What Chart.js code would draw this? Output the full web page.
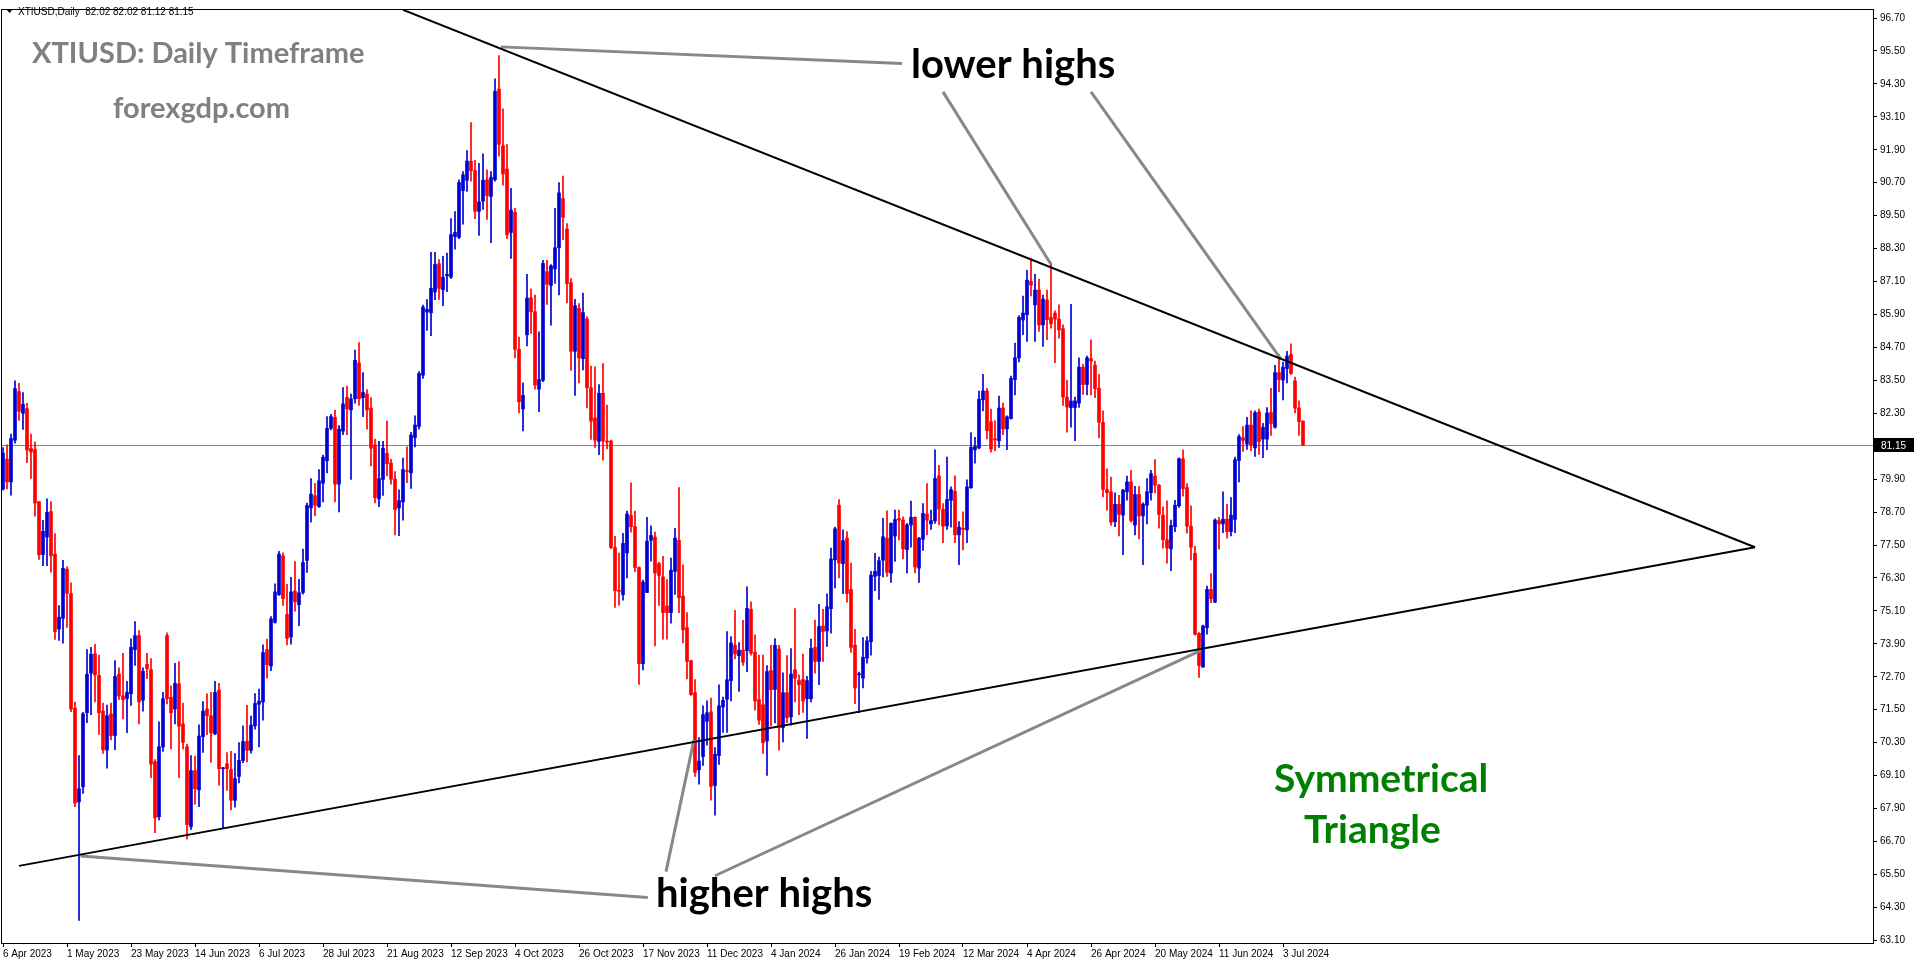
<!DOCTYPE html>
<html>
<head>
<meta charset="utf-8">
<title>XTIUSD Daily</title>
<script src="https://cdn.jsdelivr.net/npm/chart.js@4.4.1/dist/chart.umd.min.js"></script>
<style>
  html, body { margin: 0; padding: 0; background: #fff; }
</style>
</head>
<body>
<canvas id="chart" width="1916" height="964"></canvas>
<script>
// daily bars, 6 Apr 2023 .. 9 Jul 2024 (one row = 16 bars = one date label)
const opens = [
  79.54, 80.63, 79.80, 81.32, 83.09, 82.30, 82.47, 81.02, 80.98, 79.08, 77.15, 77.79, 78.72, 77.17, 74.44, 74.83,
  76.62, 75.73, 71.56, 68.14, 68.69, 71.39, 72.83, 73.54, 72.75, 71.45, 70.03, 71.35, 70.56, 72.79, 72.00, 71.91,
  72.08, 73.69, 74.20, 71.85, 73.15, 72.96, 69.61, 67.60, 70.14, 74.20, 71.95, 71.52, 72.44, 70.98, 70.15, 67.24,
  69.28, 68.58, 70.52, 71.52, 71.28, 70.62, 72.21, 69.35, 69.53, 69.32, 68.20, 69.07, 69.65, 70.35, 70.02, 70.91,
  71.70, 71.78, 73.69, 73.09, 74.68, 75.69, 77.10, 74.97, 74.15, 75.82, 75.33, 75.77, 76.94, 78.85, 79.30, 78.90,
  79.75, 80.57, 81.75, 82.15, 79.72, 81.65, 82.88, 82.42, 82.83, 84.14, 82.87, 83.00, 82.49, 81.15, 79.18, 79.89,
  80.84, 80.49, 79.90, 78.85, 79.07, 80.21, 80.13, 81.41, 81.82, 83.69, 85.99, 85.96, 86.72, 87.75, 86.80, 87.31,
  87.26, 88.74, 88.71, 90.41, 90.79, 91.48, 91.14, 89.66, 90.03, 90.81, 90.20, 90.81, 94.11, 92.05, 91.20, 88.89,
  89.62, 84.63, 82.46, 85.16, 86.50, 86.00, 83.18, 83.50, 87.46, 86.96, 87.56, 88.33, 90.12, 89.01, 87.06, 84.56,
  86.12, 84.29, 85.74, 83.23, 82.13, 81.28, 83.03, 81.29, 81.29, 77.41, 75.84, 75.69, 77.21, 78.58, 78.17, 76.68,
  73.18, 75.77, 77.67, 77.79, 76.82, 76.34, 75.28, 75.04, 76.54, 77.67, 75.64, 74.49, 73.29, 72.12, 69.31, 69.79,
  71.08, 71.42, 68.74, 69.83, 71.60, 71.88, 72.56, 73.85, 73.47, 73.67, 73.65, 75.16, 73.59, 71.87, 71.68, 70.36,
  72.93, 72.24, 73.71, 70.85, 72.12, 71.24, 72.96, 72.56, 72.60, 71.90, 71.90, 73.77, 73.26, 74.55, 74.37, 75.18,
  76.96, 78.95, 76.82, 77.75, 75.88, 73.85, 72.77, 72.65, 73.38, 73.98, 76.36, 76.39, 76.95, 77.75, 76.48, 77.83,
  78.47, 78.41, 77.33, 78.23, 78.51, 76.66, 77.71, 78.62, 78.27, 78.38, 80.02, 78.80, 78.20, 79.13, 79.46, 77.87,
  78.11, 78.05, 79.59, 80.97, 81.04, 82.79, 83.11, 81.99, 81.37, 81.30, 82.49, 81.73, 82.11, 83.53, 84.32, 85.70,
  85.89, 87.11, 86.25, 86.79, 85.52, 86.43, 85.79, 85.95, 85.73, 85.38, 82.89, 82.51, 82.51, 82.67, 83.98, 83.35,
  84.29, 84.05, 83.21, 81.97, 79.52, 79.44, 78.35, 78.98, 78.59, 79.44, 79.80, 78.23, 79.34, 78.56, 78.95, 79.41,
  80.01, 79.68, 78.59, 77.69, 77.36, 78.17, 78.93, 80.64, 79.59, 78.19, 77.20, 74.28, 73.05, 74.49, 75.88, 75.42,
  78.39, 78.27, 78.44, 77.99, 78.43, 80.58, 81.41, 81.18, 81.87, 81.04, 82.35, 81.36, 81.36, 82.33, 81.79, 83.78,
  83.51, 83.93, 84.44, 83.48, 82.49, 82.02
];
const highs = [
  81.05, 81.15, 81.54, 83.48, 83.39, 83.05, 82.66, 81.54, 81.25, 79.08, 78.40, 79.18, 79.08, 77.92, 75.29, 76.94,
  76.71, 76.12, 71.78, 69.83, 71.40, 73.69, 73.77, 73.88, 73.49, 71.74, 71.67, 71.74, 73.29, 73.03, 73.55, 72.53,
  74.08, 74.71, 74.38, 73.03, 73.55, 73.36, 69.68, 71.06, 72.13, 74.30, 72.37, 73.19, 73.25, 71.74, 70.24, 69.83,
  69.81, 70.95, 71.80, 72.08, 72.13, 72.53, 72.46, 69.40, 69.94, 69.98, 69.90, 70.30, 70.91, 71.66, 71.27, 72.09,
  72.25, 73.86, 74.07, 74.89, 76.09, 77.27, 77.22, 76.07, 76.32, 76.90, 76.25, 77.35, 79.03, 79.92, 79.75, 80.25,
  80.78, 82.18, 82.26, 82.42, 81.85, 83.24, 83.29, 83.00, 84.60, 84.88, 83.78, 83.16, 82.87, 81.36, 81.28, 81.28,
  82.02, 80.62, 80.18, 79.51, 80.67, 81.08, 81.61, 82.21, 83.82, 86.24, 86.44, 88.16, 88.16, 87.90, 88.02, 88.14,
  89.39, 89.65, 90.81, 91.11, 91.87, 92.89, 91.52, 91.41, 91.75, 91.17, 91.11, 94.49, 95.33, 93.39, 92.09, 90.50,
  89.77, 85.08, 83.41, 87.36, 86.83, 86.61, 85.27, 87.87, 87.87, 87.72, 89.77, 90.71, 90.94, 89.21, 87.21, 86.45,
  86.30, 86.68, 85.81, 84.02, 83.99, 83.35, 84.11, 82.60, 81.32, 77.82, 77.21, 77.93, 78.74, 79.77, 78.74, 76.71,
  76.22, 78.51, 78.20, 77.97, 76.87, 77.09, 76.24, 77.02, 78.11, 79.59, 76.78, 75.04, 73.29, 72.60, 70.48, 71.64,
  71.82, 71.92, 70.12, 72.41, 71.96, 74.35, 74.16, 75.12, 73.95, 74.76, 75.98, 75.43, 74.23, 73.49, 73.49, 73.11,
  73.85, 74.09, 73.85, 72.84, 73.47, 73.73, 75.18, 72.77, 73.53, 72.72, 74.07, 74.77, 75.34, 75.16, 75.72, 77.39,
  78.15, 79.16, 78.05, 77.99, 76.84, 74.43, 72.87, 74.13, 74.16, 76.54, 77.20, 77.06, 78.47, 78.75, 78.31, 78.77,
  78.77, 78.53, 78.29, 79.10, 78.53, 77.78, 79.01, 79.74, 78.77, 80.97, 80.40, 79.01, 80.70, 79.62, 80.02, 78.35,
  78.71, 79.88, 81.60, 81.42, 83.11, 83.72, 83.21, 82.45, 82.03, 82.93, 82.67, 82.21, 83.66, 84.86, 85.86, 86.57,
  87.51, 87.93, 87.36, 87.19, 86.61, 86.79, 87.79, 86.03, 86.25, 85.52, 83.50, 86.27, 82.89, 84.32, 84.08, 84.38,
  84.98, 84.20, 83.72, 82.39, 80.28, 79.98, 79.40, 79.31, 79.53, 80.01, 80.22, 79.64, 79.64, 79.04, 79.92, 80.22,
  80.61, 79.71, 78.89, 79.11, 78.41, 79.13, 80.68, 80.97, 79.74, 78.93, 77.45, 74.31, 74.58, 76.00, 76.46, 78.45,
  78.51, 79.44, 78.98, 79.23, 80.70, 81.52, 81.82, 82.15, 82.39, 82.39, 82.45, 81.93, 82.51, 83.21, 84.05, 84.44,
  84.17, 84.56, 84.83, 83.62, 82.75, 82.02
];
const lows = [
  79.50, 79.54, 79.32, 81.21, 82.04, 81.71, 80.50, 79.93, 78.55, 76.98, 76.75, 76.75, 76.51, 74.06, 74.02, 73.92,
  74.50, 71.43, 67.97, 63.82, 68.45, 71.03, 71.32, 71.78, 70.60, 69.91, 69.37, 70.40, 70.04, 71.87, 71.16, 70.66,
  71.66, 73.11, 70.98, 71.45, 72.63, 69.02, 67.02, 67.48, 69.98, 71.71, 70.07, 70.98, 69.02, 70.07, 66.78, 67.14,
  68.06, 67.97, 69.94, 70.59, 69.58, 70.59, 68.75, 67.18, 68.56, 67.85, 67.95, 68.83, 69.57, 69.60, 69.92, 70.79,
  70.14, 71.12, 72.65, 72.92, 74.65, 75.66, 75.30, 73.86, 73.89, 75.09, 74.56, 75.71, 76.50, 78.33, 78.57, 78.87,
  79.07, 80.13, 81.69, 79.07, 78.71, 81.52, 81.52, 79.89, 82.67, 82.59, 82.18, 81.72, 80.38, 79.03, 78.90, 79.31,
  80.02, 79.72, 77.87, 77.84, 78.41, 79.77, 79.56, 81.07, 81.72, 83.57, 85.32, 85.13, 86.44, 86.45, 86.22, 86.73,
  87.21, 88.28, 88.66, 89.19, 90.38, 90.76, 89.39, 88.78, 89.73, 89.36, 88.52, 90.76, 91.67, 90.61, 88.66, 87.94,
  84.32, 82.31, 81.66, 84.75, 85.21, 83.18, 82.36, 83.45, 86.27, 85.51, 87.03, 86.61, 88.63, 86.32, 83.86, 82.95,
  83.41, 83.88, 82.50, 81.35, 81.06, 80.79, 80.59, 81.00, 77.37, 75.23, 75.31, 75.49, 76.30, 77.97, 76.53, 72.42,
  72.95, 75.77, 76.91, 73.82, 75.30, 74.07, 74.07, 74.65, 75.70, 75.04, 73.93, 72.62, 72.02, 69.07, 68.79, 69.47,
  70.21, 68.20, 67.66, 69.51, 70.67, 70.67, 71.82, 73.35, 72.17, 73.11, 72.89, 73.49, 71.48, 70.96, 69.91, 69.11,
  70.90, 71.02, 70.03, 70.33, 71.03, 70.94, 71.78, 71.32, 71.40, 70.45, 71.78, 72.83, 72.41, 73.26, 73.81, 74.29,
  75.94, 76.30, 75.73, 75.42, 73.59, 71.72, 71.39, 72.29, 73.20, 73.49, 75.84, 75.52, 76.34, 76.36, 76.14, 76.90,
  77.69, 76.99, 76.48, 77.42, 76.48, 76.14, 77.30, 77.87, 78.07, 78.29, 78.23, 77.59, 78.07, 78.15, 77.59, 76.78,
  77.32, 77.59, 79.56, 80.48, 81.00, 82.39, 81.37, 80.88, 80.94, 81.06, 81.52, 80.97, 82.09, 82.97, 84.17, 85.16,
  84.92, 86.58, 84.92, 85.28, 84.74, 84.98, 85.40, 84.14, 85.04, 82.59, 81.61, 81.79, 81.30, 82.51, 82.99, 82.97,
  82.97, 82.87, 81.40, 79.25, 78.77, 78.21, 78.17, 77.83, 77.15, 79.13, 78.33, 77.87, 77.72, 76.78, 78.27, 79.13,
  79.40, 78.11, 77.39, 76.84, 76.57, 77.99, 78.87, 79.28, 77.93, 76.96, 74.22, 72.68, 73.05, 74.25, 75.40, 75.40,
  77.35, 77.95, 77.75, 77.83, 77.95, 79.80, 80.91, 80.98, 80.94, 80.73, 80.80, 80.68, 80.97, 81.49, 81.76, 83.09,
  82.79, 83.41, 83.72, 82.31, 81.49, 81.12
];
const closes = [
  80.85, 79.80, 81.38, 83.20, 82.37, 82.63, 80.96, 80.89, 79.03, 77.15, 78.00, 78.69, 77.11, 74.35, 74.87, 76.65,
  75.74, 71.52, 68.10, 68.62, 71.35, 72.79, 73.52, 72.77, 71.39, 70.04, 71.28, 70.56, 72.71, 72.00, 71.87, 72.13,
  73.77, 74.20, 71.79, 72.90, 73.00, 69.52, 67.56, 70.15, 71.90, 71.90, 71.39, 72.46, 70.90, 70.31, 67.31, 69.28,
  68.62, 70.54, 71.45, 71.28, 70.66, 72.13, 69.35, 69.37, 69.35, 68.20, 68.99, 69.65, 70.34, 70.02, 70.94, 71.73,
  71.81, 73.58, 73.14, 74.81, 75.79, 77.17, 75.55, 74.10, 75.79, 75.43, 75.76, 76.86, 78.94, 79.36, 78.95, 79.84,
  80.70, 81.75, 82.18, 79.72, 81.72, 82.64, 82.46, 82.82, 84.23, 82.83, 83.06, 82.42, 81.03, 79.23, 79.92, 81.03,
  80.46, 79.90, 78.79, 79.12, 80.25, 80.18, 81.51, 81.87, 83.75, 86.17, 86.09, 86.85, 87.72, 86.85, 87.26, 87.36,
  88.81, 88.89, 90.71, 90.99, 91.49, 91.14, 89.66, 90.00, 90.79, 90.23, 90.90, 94.03, 92.10, 91.02, 88.81, 89.70,
  84.63, 82.72, 82.95, 86.50, 86.00, 83.33, 83.53, 87.76, 87.00, 87.67, 88.33, 90.33, 89.44, 87.03, 84.56, 86.22,
  84.32, 85.97, 83.23, 82.01, 81.32, 83.03, 81.29, 81.25, 77.41, 75.84, 75.81, 77.56, 78.63, 78.17, 76.68, 73.18,
  76.15, 77.64, 77.85, 76.48, 76.39, 75.04, 75.04, 76.58, 77.75, 75.58, 74.41, 73.26, 72.05, 69.22, 69.63, 71.32,
  71.39, 68.71, 69.88, 71.64, 71.84, 72.59, 73.93, 73.53, 73.67, 73.23, 75.19, 73.56, 71.82, 71.12, 70.30, 72.89,
  72.23, 73.85, 70.84, 72.12, 71.21, 72.80, 72.65, 72.41, 71.82, 72.56, 73.73, 73.26, 74.53, 74.35, 75.25, 76.99,
  78.09, 76.84, 77.66, 75.73, 73.77, 72.29, 72.81, 73.41, 74.01, 76.40, 76.54, 76.93, 77.80, 76.51, 78.29, 78.43,
  78.41, 77.36, 78.23, 78.51, 76.70, 77.75, 78.65, 78.41, 78.39, 79.92, 78.81, 78.19, 79.16, 79.52, 77.87, 78.15,
  78.07, 79.62, 81.06, 81.09, 82.81, 83.11, 81.67, 81.00, 81.33, 82.49, 81.73, 82.17, 83.57, 84.32, 85.79, 85.95,
  87.15, 86.97, 86.79, 85.52, 86.46, 85.71, 85.56, 85.73, 85.34, 82.89, 82.53, 82.75, 82.75, 83.98, 83.35, 84.32,
  84.20, 83.20, 81.97, 79.53, 79.41, 78.33, 78.98, 78.62, 79.50, 79.80, 78.39, 79.34, 78.56, 78.99, 79.44, 80.10,
  79.68, 78.62, 77.69, 77.39, 78.21, 78.95, 80.64, 79.56, 78.19, 77.42, 74.25, 73.11, 74.55, 75.88, 75.54, 78.41,
  78.27, 78.44, 77.99, 78.59, 80.61, 81.45, 81.31, 81.87, 81.15, 82.32, 81.27, 81.79, 82.31, 81.93, 83.78, 83.53,
  83.98, 84.38, 83.75, 82.49, 82.00, 81.15
];

// time axis labels, one every 16 bars
const dateLabels = ['6 Apr 2023', '1 May 2023', '23 May 2023', '14 Jun 2023', '6 Jul 2023', '28 Jul 2023',
  '21 Aug 2023', '12 Sep 2023', '4 Oct 2023', '26 Oct 2023', '17 Nov 2023', '11 Dec 2023', '4 Jan 2024',
  '26 Jan 2024', '19 Feb 2024', '12 Mar 2024', '4 Apr 2024', '26 Apr 2024', '20 May 2024', '11 Jun 2024', '3 Jul 2024'];
const labelStep = 16;

// price axis labels (81.10 sits under the current price box)
const priceLabels = [96.70, 95.50, 94.30, 93.10, 91.90, 90.70, 89.50, 88.30, 87.10, 85.90, 84.70, 83.50, 82.30,
  79.90, 78.70, 77.50, 76.30, 75.10, 73.90, 72.70, 71.50, 70.30, 69.10, 67.90, 66.70, 65.50, 64.30, 63.10];
const lastPrice = 81.15;

// drawn objects, in (bar index, price)
const upperTrend = [{x: 100, y: 97.00}, {x: 438, y: 77.42}];
const lowerTrend = [{x: 4, y: 65.81}, {x: 438, y: 77.42}];
const pointerLines = [
  [{x: 124.5, y: 95.65}, {x: 224.75, y: 95.04}],
  [{x: 235, y: 94.01}, {x: 262, y: 87.73}],
  [{x: 272, y: 94.01}, {x: 319.4, y: 84.29}],
  [{x: 19.4, y: 66.17}, {x: 161.2, y: 64.66}],
  [{x: 165.75, y: 65.60}, {x: 172.75, y: 70.41}],
  [{x: 178, y: 65.45}, {x: 299.5, y: 73.66}]
];

const BULL = '#0000d0';
const BEAR = '#ff0000';
const candleColor = ctx => closes[ctx.dataIndex] >= opens[ctx.dataIndex] ? BULL : BEAR;
const smallFont = {family: 'Liberation Sans, Arial, sans-serif', size: 10};

const lineSets = [
  {data: upperTrend, color: '#000', width: 2},
  {data: lowerTrend, color: '#000', width: 2}
].concat(pointerLines.map(p => ({data: p, color: '#888888', width: 3})));

const overlay = {
  id: 'overlay',
  beforeDatasetsDraw(chart) {
    const {ctx, chartArea: a, scales: {y}} = chart;
    const py = Math.round(y.getPixelForValue(lastPrice)) + 0.5;
    ctx.save();
    ctx.strokeStyle = '#7a8899';
    ctx.lineWidth = 1;
    ctx.beginPath();
    ctx.moveTo(a.left, py);
    ctx.lineTo(a.right + 4, py);
    ctx.stroke();
    ctx.restore();
  },
  afterDraw(chart) {
    const {ctx, chartArea: a, scales: {y}} = chart;
    ctx.save();
    // frame
    ctx.strokeStyle = '#000';
    ctx.lineWidth = 1;
    ctx.strokeRect(a.left + 0.5, a.top + 0.5, a.right - a.left, a.bottom - a.top);

    // current price box
    const py = Math.round(y.getPixelForValue(lastPrice));
    ctx.fillStyle = '#000';
    ctx.fillRect(a.right + 1, py - 7, 40, 14);
    ctx.fillStyle = '#fff';
    ctx.font = '10px Liberation Sans, Arial, sans-serif';
    ctx.textBaseline = 'middle';
    ctx.fillText(lastPrice.toFixed(2), a.right + 8, py + 1);

    // symbol line top-left
    ctx.fillStyle = '#000';
    ctx.beginPath();
    ctx.moveTo(6, 9); ctx.lineTo(13, 9); ctx.lineTo(9.5, 13);
    ctx.closePath();
    ctx.fill();
    ctx.textBaseline = 'alphabetic';
    ctx.fillText('XTIUSD,Daily  82.02 82.02 81.12 81.15', 18, 15);

    // captions
    ctx.fillStyle = '#808080';
    ctx.font = 'bold 29px Lato, sans-serif';
    ctx.fillText('XTIUSD: Daily Timeframe', 32, 63);
    ctx.fillText('forexgdp.com', 113, 118);

    ctx.fillStyle = '#000';
    ctx.font = 'bold 40px Lato, sans-serif';
    ctx.fillText('lower highs', 911, 78);
    ctx.fillText('higher highs', 656, 907);

    ctx.fillStyle = '#008000';
    ctx.font = 'bold 39px Lato, sans-serif';
    ctx.fillText('Symmetrical', 1274, 792);
    ctx.fillText('Triangle', 1304, 843);
    ctx.restore();
  }
};

new Chart(document.getElementById('chart'), {
  type: 'bar',
  data: {
    datasets: [
      {
        label: 'wick',
        data: opens.map((o, i) => ({x: i, y: [lows[i], highs[i]]})),
        backgroundColor: candleColor,
        barThickness: 1,
        grouped: false,
        order: 3
      },
      {
        label: 'body',
        data: opens.map((o, i) => ({x: i, y: [o, closes[i]]})),
        backgroundColor: candleColor,
        barThickness: 3,
        minBarLength: 1,
        grouped: false,
        order: 2
      }
    ].concat(lineSets.map(l => ({
      type: 'line',
      data: l.data,
      borderColor: l.color,
      borderWidth: l.width,
      pointRadius: 0,
      fill: false,
      order: 1
    })))
  },
  options: {
    responsive: false,
    devicePixelRatio: 1,
    animation: false,
    layout: {padding: {left: 1, top: 2, right: 0, bottom: 0}},
    plugins: {legend: {display: false}, tooltip: {enabled: false}},
    scales: {
      x: {
        type: 'linear',
        min: -0.5,
        max: 467.5,
        offset: false,
        afterBuildTicks: s => { s.ticks = dateLabels.map((d, k) => ({value: k * labelStep})); },
        afterFit: s => { s.height = 21; },
        ticks: {
          callback: v => dateLabels[Math.round(v / labelStep)],
          align: 'start',
          autoSkip: false,
          maxRotation: 0,
          padding: 1,
          color: '#000',
          font: smallFont
        },
        grid: {drawOnChartArea: false, offset: false, tickLength: 4, color: '#000'},
        border: {color: '#000'}
      },
      y: {
        position: 'right',
        min: 63.00,
        max: 97.03,
        afterBuildTicks: s => { s.ticks = priceLabels.map(v => ({value: v})); },
        afterFit: s => { s.width = 43; },
        ticks: {
          callback: v => v.toFixed(2),
          autoSkip: false,
          padding: 3,
          color: '#000',
          font: smallFont
        },
        grid: {drawOnChartArea: false, tickLength: 4, color: '#000'},
        border: {color: '#000'}
      }
    }
  },
  plugins: [overlay]
});
</script>
</body>
</html>
